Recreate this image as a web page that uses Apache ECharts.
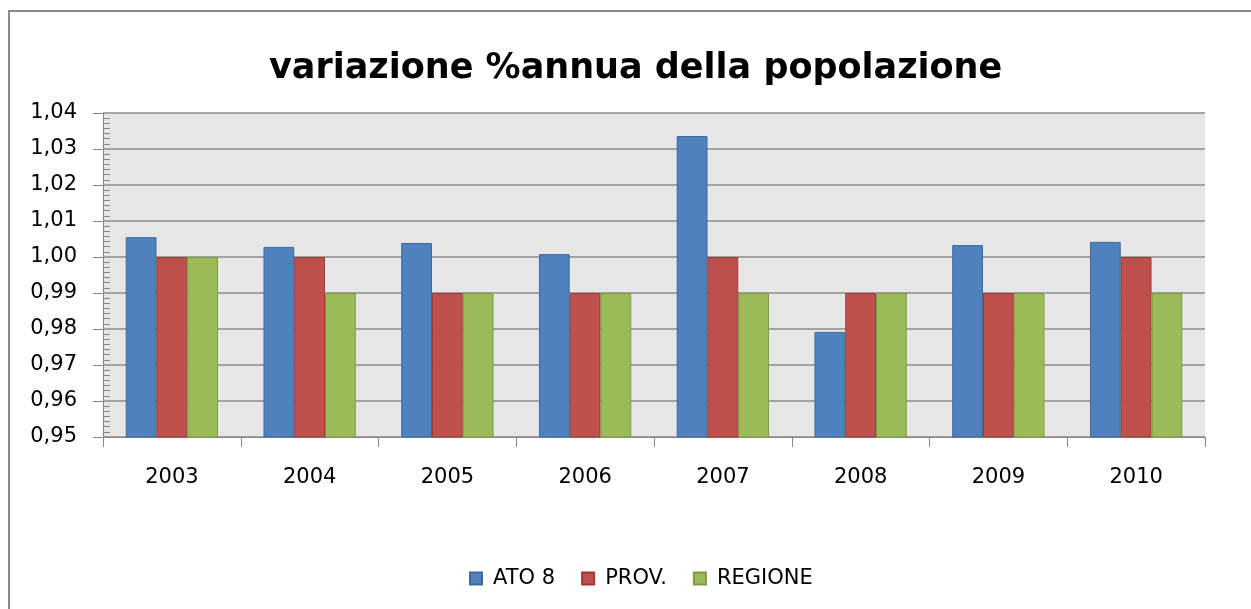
<!DOCTYPE html>
<html>
<head>
<meta charset="utf-8">
<script src="https://cdn.jsdelivr.net/npm/echarts@6/dist/echarts.min.js"></script>
<style>
  html, body { margin: 0; padding: 0; background: #fff; }
  #chart { width: 1251px; height: 609px; }
</style>
</head>
<body>
<div id="chart"></div>
<script>
// Data
const years = ['2003', '2004', '2005', '2006', '2007', '2008', '2009', '2010']
const ato8 = [1.0055, 1.0028, 1.0039, 1.0008, 1.0336, 0.9792, 1.0033, 1.0042]
const prov = [1.00, 1.00, 0.99, 0.99, 1.00, 0.99, 0.99, 1.00]
const regione = [1.00, 0.99, 0.99, 0.99, 0.99, 0.99, 0.99, 0.99]

const font = '"DejaVu Sans", sans-serif'
const chart = echarts.init(document.getElementById('chart'))

const barSeries = (name, data, color, border) => ({
  name: name,
  type: 'bar',
  data: data,
  barGap: '0%',
  barCategoryGap: '33%',
  itemStyle: { color: color, borderColor: border, borderWidth: 1 }
})

chart.setOption({
  animation: false,
  backgroundColor: '#fff',
  title: {
    text: 'variazione %annua della popolazione',
    left: 264,
    top: 46,
    textStyle: { fontFamily: font, fontSize: 35, fontWeight: 'bold', color: '#000' }
  },
  graphic: [{
    type: 'rect',
    shape: { x: 9, y: 11, width: 1260, height: 620 },
    style: { fill: 'none', stroke: '#8a8a8a', lineWidth: 2 },
    silent: true
  }],
  legend: {
    bottom: 15,
    left: 464,
    itemWidth: 12,
    itemHeight: 12,
    itemGap: 26,
    icon: 'rect',
    textStyle: { fontFamily: font, fontSize: 21, color: '#000', padding: [0, 0, 0, 6] },
    data: ['ATO 8', 'PROV.', 'REGIONE']
  },
  grid: { left: 103, right: 46, top: 113, bottom: 172, show: true, backgroundColor: '#e6e6e6', borderWidth: 0 },
  xAxis: {
    type: 'category',
    data: years,
    axisLine: { lineStyle: { color: '#868686', width: 1 } },
    axisTick: { show: true, length: 10, lineStyle: { color: '#868686' } },
    axisLabel: { fontFamily: font, fontSize: 21, color: '#000', margin: 30 }
  },
  yAxis: {
    type: 'value',
    min: 0.95,
    max: 1.04,
    interval: 0.01,
    axisLine: { show: true, lineStyle: { color: '#868686' } },
    axisTick: { show: true, length: 10, lineStyle: { color: '#868686' } },
    minorTick: { show: true, splitNumber: 7, length: -7, lineStyle: { color: '#868686' } },
    splitLine: { show: true, lineStyle: { color: '#8c8c8c', width: 1.5 } },
    axisLabel: {
      fontFamily: font, fontSize: 21, color: '#000', margin: 26,
      formatter: v => v.toFixed(2).replace('.', ',')
    }
  },
  series: [
    barSeries('ATO 8', ato8, '#4f81bd', '#3c6a9e'),
    barSeries('PROV.', prov, '#c0504d', '#9c3a37'),
    barSeries('REGIONE', regione, '#9bbb59', '#7e9a43')
  ]
})
</script>
</body>
</html>
